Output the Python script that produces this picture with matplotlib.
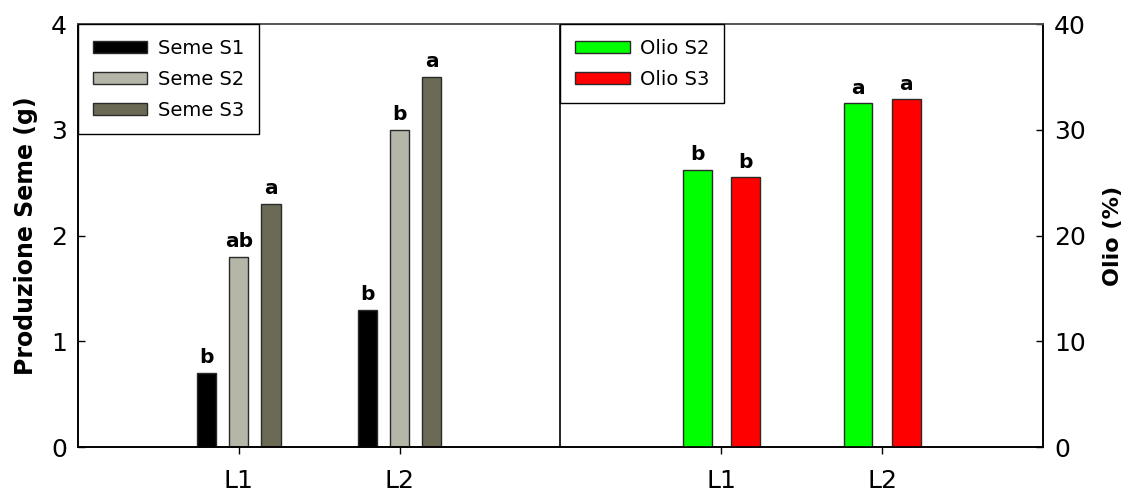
import matplotlib
matplotlib.use("Agg")
import matplotlib.pyplot as plt
import numpy as np

plt.rcParams['font.family'] = ['DejaVu Sans']

# Data
groups = ["L1", "L2"]
seme_s1 = [0.7, 1.3]
seme_s2 = [1.8, 3.0]
seme_s3 = [2.3, 3.5]
seme_letters = [["b", "b"], ["ab", "b"], ["a", "a"]]

olio_s2 = [26.2, 32.5]
olio_s3 = [25.5, 32.9]
olio_letters = [["b", "a"], ["b", "a"]]

seme_colors = ["#000000", "#b5b5a8", "#6b6b55"]
olio_colors = ["#00ff00", "#ff0000"]
edge = "#2a2a2a"

fig = plt.figure(figsize=(11.29, 4.94), dpi=100)
ax = fig.add_axes([0.0691, 0.0951, 0.8547, 0.8563])
ax2 = ax.twinx()

seme_pos = np.array([1, 2])
olio_pos = np.array([4, 5])

# Seed production bars (left axis)
seme_series = [seme_s1, seme_s2, seme_s3]
seme_names = ["Seme S1", "Seme S2", "Seme S3"]
offsets = [-0.2, 0.0, 0.2]
seme_handles = []
for vals, off, col, name, lets in zip(seme_series, offsets, seme_colors, seme_names, seme_letters):
    bars = ax.bar(seme_pos + off, vals, width=0.12, color=col, edgecolor=edge,
                  linewidth=1, label=name, zorder=2)
    seme_handles.append(bars)
    for b, v, t in zip(bars, vals, lets):
        ax.annotate(t, (b.get_x() + b.get_width() / 2, v), xytext=(0, 4),
                    textcoords="offset points", ha="center", va="bottom",
                    fontsize=14.5, fontweight="bold")

# Oil content bars (right axis)
olio_series = [olio_s2, olio_s3]
olio_names = ["Olio S2", "Olio S3"]
olio_handles = []
for vals, off, col, name, lets in zip(olio_series, [-0.15, 0.15], olio_colors, olio_names, olio_letters):
    bars = ax2.bar(olio_pos + off, vals, width=0.18, color=col, edgecolor=edge,
                   linewidth=1, label=name, zorder=2)
    olio_handles.append(bars)
    for b, v, t in zip(bars, vals, lets):
        ax2.annotate(t, (b.get_x() + b.get_width() / 2, v), xytext=(0, 4),
                     textcoords="offset points", ha="center", va="bottom",
                     fontsize=14.5, fontweight="bold")

# Panel divider
ax.axvline(3, color="black", linewidth=1.2, zorder=3)

ax.set_xlim(0, 6)
ax.set_ylim(0, 4)
ax2.set_ylim(0, 40)
ax.set_xticks([1, 2, 4, 5])
ax.set_xticklabels(groups + groups)
ax.set_yticks([0, 1, 2, 3, 4])
ax2.set_yticks([0, 10, 20, 30, 40])

ax.tick_params(axis="x", direction="out", length=5, width=1, labelsize=18, pad=11)
ax.tick_params(axis="y", direction="in", length=5, width=1, labelsize=18, pad=8)
ax2.tick_params(axis="y", direction="in", length=5, width=1, labelsize=18, pad=8)

ax.set_ylabel("Produzione Seme (g)", fontsize=17, fontweight="bold", labelpad=9)
ax2.set_ylabel("Olio (%)", fontsize=16, fontweight="bold", labelpad=12)

for a in (ax, ax2):
    for s in a.spines.values():
        s.set_linewidth(1.2)
        s.set_color("black")
    a.spines["top"].set_color("#555555")

legend_style = dict(loc="upper left", borderaxespad=0, fontsize=14, fancybox=False,
                    edgecolor="black", framealpha=1, handlelength=2.8,
                    handleheight=0.6, handletextpad=0.55, labelspacing=0.62,
                    borderpad=0.75)

leg1 = ax2.legend(seme_handles, seme_names, bbox_to_anchor=(0, 1), **legend_style)
leg1.get_frame().set_linewidth(1)
ax2.add_artist(leg1)

leg2 = ax2.legend(olio_handles, olio_names, bbox_to_anchor=(0.5, 1), **legend_style)
leg2.get_frame().set_linewidth(1)

fig.savefig("out.png", dpi=100)
